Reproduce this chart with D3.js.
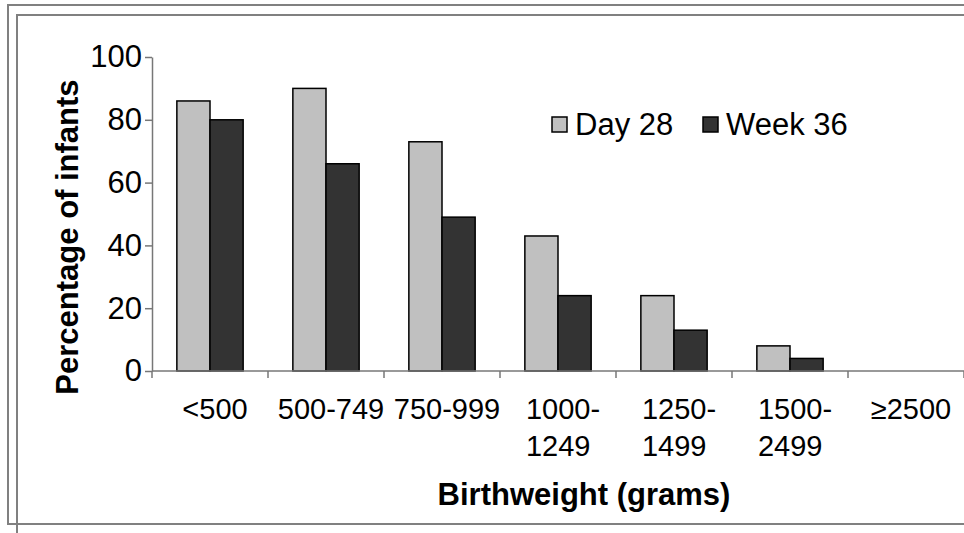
<!DOCTYPE html>
<html>
<head>
<meta charset="utf-8">
<script src="https://cdn.jsdelivr.net/npm/d3@7"></script>
<style>
  html, body { margin: 0; padding: 0; background: #fff; }
  svg { display: block; }
  text { font-family: "Liberation Sans", Arial, sans-serif; fill: #000; }
</style>
</head>
<body>
<svg id="chart" width="964" height="533"></svg>
<script>
// Birthweight bands (a "\n" breaks a label onto a second line)
const categories = ["<500", "500-749", "750-999", "1000-\n1249", "1250-\n1499", "1500-\n2499", "≥2500"];
// Percentage of infants still on oxygen, by series
const day28 = [86, 90, 73, 43, 24, 8, 0];
const week36 = [80, 66, 49, 24, 13, 4, 0];
const seriesNames = ["Day 28", "Week 36"];
const seriesColors = ["#c0c0c0", "#333333"];
const yTicks = [0, 20, 40, 60, 80, 100];

const W = 964, H = 533;
const plot = { left: 152, right: 964, top: 57, bottom: 371 };

const svg = d3.select("#chart");
svg.append("rect").attr("width", W).attr("height", H).attr("fill", "#fff");

// Double frame around the chart
const frame = svg.append("g").attr("fill", "none").attr("stroke", "#808080").attr("stroke-width", 2);
frame.append("path").attr("d", `M${W + 5},5 H8 V524 H${W + 5}`);
frame.append("path").attr("d", `M${W + 5},15 H17 V${H + 5}`);

const x = d3.scaleBand().domain(categories).range([plot.left, plot.right]);
const y = d3.scaleLinear().domain([0, 100]).range([plot.bottom, plot.top]);

// Two bars per band, with a gap of 150% of a bar width shared around the pair
const barW = x.bandwidth() / 3.5;
const groupOffset = barW * 0.75;
const sub = d3.scaleBand().domain(seriesNames).range([0, barW * 2]);

const rows = categories.map((c, i) => ({ cat: c, values: [day28[i], week36[i]] }));

const groups = svg.append("g").selectAll("g").data(rows).join("g")
  .attr("transform", d => `translate(${x(d.cat) + groupOffset},0)`);

groups.selectAll("rect")
  .data(d => d.values.map((v, j) => ({ name: seriesNames[j], v, color: seriesColors[j] })))
  .join("rect")
  .filter(d => d.v > 0)
  .attr("x", d => sub(d.name))
  .attr("width", sub.bandwidth())
  .attr("y", d => y(d.v))
  .attr("height", d => y(0) - y(d.v))
  .attr("fill", d => d.color)
  .attr("stroke", "#000")
  .attr("stroke-width", 1.5);

// Y axis
const yAxis = svg.append("g")
  .attr("transform", `translate(${plot.left},0)`)
  .call(d3.axisLeft(y).tickValues(yTicks).tickSize(7).tickSizeOuter(0).tickPadding(3));
yAxis.select(".domain").attr("stroke", "#777").attr("stroke-width", 1.5);
yAxis.selectAll(".tick line").attr("stroke", "#777").attr("stroke-width", 1.5);
yAxis.selectAll(".tick text")
  .attr("font-family", "Liberation Sans, Arial, sans-serif")
  .attr("font-size", 31)
  .attr("fill", "#000");

// X axis line with tick marks at the band boundaries
const xAxis = svg.append("g");
xAxis.append("line")
  .attr("x1", plot.left).attr("x2", plot.right)
  .attr("y1", y(0)).attr("y2", y(0))
  .attr("stroke", "#777").attr("stroke-width", 1.5);
const boundaries = categories.map(c => x(c)).concat([x.range()[1]]);
xAxis.selectAll("line.tk").data(boundaries).join("line")
  .attr("class", "tk")
  .attr("x1", d => d).attr("x2", d => d)
  .attr("y1", y(0)).attr("y2", y(0) + 7)
  .attr("stroke", "#777").attr("stroke-width", 1.5);

// Category labels: first line centred on the band, later lines share its left edge
const labelFont = 29;
categories.forEach(c => {
  const lines = c.split("\n");
  const cx = x(c) + x.bandwidth() / 2 + 5;
  const first = xAxis.append("text")
    .attr("x", cx).attr("y", y(0) + 48)
    .attr("text-anchor", "middle")
    .attr("font-size", labelFont)
    .text(lines[0]);
  const left = cx - first.node().getComputedTextLength() / 2;
  lines.slice(1).forEach((ln, k) => {
    xAxis.append("text")
      .attr("x", left).attr("y", y(0) + 48 + 37 * (k + 1))
      .attr("text-anchor", "start")
      .attr("font-size", labelFont)
      .text(ln);
  });
});

// Axis titles
svg.append("text")
  .attr("x", 584).attr("y", 505)
  .attr("text-anchor", "middle")
  .attr("font-size", 31).attr("font-weight", "bold")
  .text("Birthweight (grams)");

svg.append("text")
  .attr("transform", `translate(78,${(plot.top + plot.bottom) / 2 + 23}) rotate(-90)`)
  .attr("text-anchor", "middle")
  .attr("font-size", 31).attr("font-weight", "bold")
  .text("Percentage of infants");

// Legend
const legendPos = [552, 703];
const legend = svg.append("g").selectAll("g").data(seriesNames).join("g")
  .attr("transform", (d, i) => `translate(${legendPos[i]},117)`);
legend.append("rect")
  .attr("width", 15).attr("height", 15)
  .attr("fill", (d, i) => seriesColors[i])
  .attr("stroke", "#000").attr("stroke-width", 1.5);
legend.append("text")
  .attr("x", 23).attr("y", 18)
  .attr("font-size", 31)
  .text(d => d);
</script>
</body>
</html>
